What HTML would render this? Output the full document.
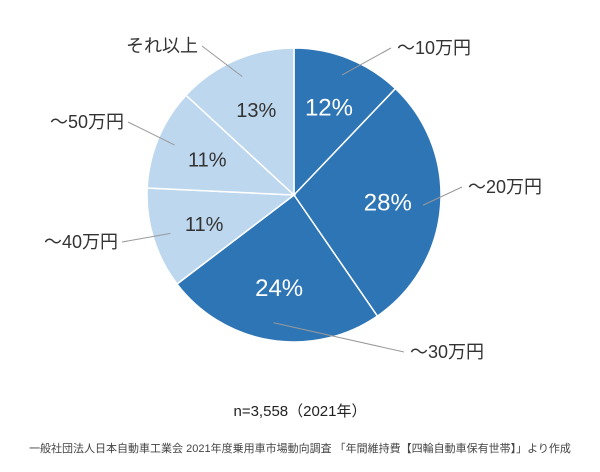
<!DOCTYPE html>
<html><head><meta charset="utf-8"><style>
body{margin:0;background:#fff;}
svg{display:block;font-family:"Liberation Sans","Noto Sans CJK JP",sans-serif;}
</style></head><body>
<svg width="600" height="472" viewBox="0 0 600 472">
<g id="slices"></g><g id="leaders"></g><g id="labels"></g>
<text x="300" y="416" font-size="15" fill="#222" text-anchor="middle">n=3,558（2021年）</text>
<text x="300" y="452" font-size="11" fill="#444" text-anchor="middle">一般社団法人日本自動車工業会 2021年度乗用車市場動向調査 「年間維持費【四輪自動車保有世帯】」より作成</text>
</svg>
<script>
const categories=["～10万円","～20万円","～30万円","～40万円","～50万円","それ以上"];
const values=[12,28,24,11,11,13];
const colors=["#2e75b6","#2e75b6","#2e75b6","#bdd7ee","#bdd7ee","#bdd7ee"];
const cx=294,cy=195,r=147;
const NS="http://www.w3.org/2000/svg";
const total=values.reduce((a,b)=>a+b,0);
function pt(a,rad){return [cx+rad*Math.sin(a),cy-rad*Math.cos(a)];}
const gS=document.getElementById('slices'),gL=document.getElementById('leaders'),gT=document.getElementById('labels');
// label anchor positions (layout, not data)
const labelPos=[[397,54,'start'],[468,193,'start'],[410,358,'start'],[118,248,'end'],[124,128,'end'],[198,52,'end']];
let acc=0;
values.forEach((v,i)=>{
  const a0=acc/total*2*Math.PI; acc+=v; const a1=acc/total*2*Math.PI;
  const p0=pt(a0,r),p1=pt(a1,r);
  const large=(a1-a0)>Math.PI?1:0;
  const p=document.createElementNS(NS,'path');
  p.setAttribute('d',`M${cx},${cy}L${p0[0]},${p0[1]}A${r},${r} 0 ${large} 1 ${p1[0]},${p1[1]}Z`);
  p.setAttribute('fill',colors[i]);p.setAttribute('stroke','#fff');p.setAttribute('stroke-width','1.5');
  
  
  gS.appendChild(p);
  const am=(a0+a1)/2;
  const lp=pt(am,r*0.64);
  const t=document.createElementNS(NS,'text');
  t.setAttribute('x',lp[0]);t.setAttribute('y',lp[1]+8);t.setAttribute('text-anchor','middle');
  t.setAttribute('font-size',i<3?'24':'20');t.setAttribute('fill',i<3?'#fff':'#333');
  t.textContent=v+'%';
  
  
  gT.appendChild(t);
  const e=pt(am,r*0.88);const lpos=labelPos[i];
  const lx=lpos[2]==='start'?lpos[0]-6:lpos[0]+4;
  const ln=document.createElementNS(NS,'line');
  ln.setAttribute('x1',e[0]);ln.setAttribute('y1',e[1]);ln.setAttribute('x2',lx);ln.setAttribute('y2',lpos[1]-6);
  ln.setAttribute('stroke','#999');ln.setAttribute('stroke-width','1');
  
  
  gL.appendChild(ln);
  const ct=document.createElementNS(NS,'text');
  ct.setAttribute('x',lpos[0]);ct.setAttribute('y',lpos[1]);ct.setAttribute('text-anchor',lpos[2]);
  ct.setAttribute('font-size','18');ct.setAttribute('fill','#333');
  ct.textContent=categories[i];
  
  
  gT.appendChild(ct);
});
</script>
</body></html>
